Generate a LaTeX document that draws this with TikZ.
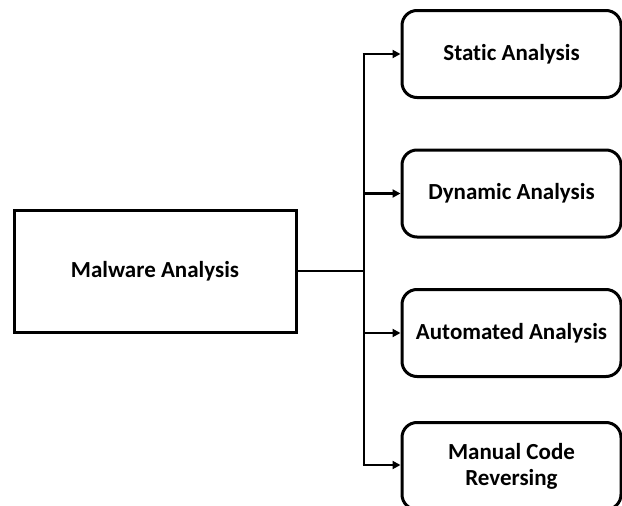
\documentclass[tikz,border=0pt]{standalone}
\usepackage{fontspec}
\setmainfont[Ligatures={NoCommon}]{Carlito}
\usetikzlibrary{arrows.meta}
\begin{document}
\begin{tikzpicture}[x=1pt,y=-1pt,
  box/.style={draw=black, line width=3pt, align=center, inner sep=0pt,
    font=\fontsize{23}{26}\selectfont\bfseries},
  rootbox/.style={box, minimum width=282pt, minimum height=122pt},
  leafbox/.style={box, rounded corners=15pt, minimum width=219pt, minimum height=87pt},
  link/.style={line width=2.8pt},
  arrowlink/.style={link, -{Triangle[length=8pt,width=8pt]}}]
  \clip (0,0) rectangle (622,506);
  \useasboundingbox (0,0) rectangle (622,506);
  \node[rootbox] (root) at (155,271) {Malware Analysis};
  \node[leafbox] (static) at (511.5,54) {Static Analysis};
  \node[leafbox] (dynamic) at (511.5,193.5) {Dynamic Analysis};
  \node[leafbox] (auto) at (511.5,333) {Automated Analysis};
  \node[leafbox] (manual) at (511.5,466) {Manual Code\\Reversing};
  \coordinate (hub) at (364,271);
  \coordinate (top) at (364,54);
  \coordinate (bot) at (364,465);
  \draw[link] (root.east) -- (hub);
  \draw[link] (top) -- (bot);
  \draw[arrowlink] ([xshift=-1.4pt]top) -- (static.west);
  \draw[arrowlink] (hub |- dynamic.west) -- (dynamic.west);
  \draw[arrowlink] (hub |- auto.west) -- (auto.west);
  \draw[arrowlink] ([xshift=-1.4pt]bot) -- (bot -| manual.west);
\end{tikzpicture}
\end{document}
